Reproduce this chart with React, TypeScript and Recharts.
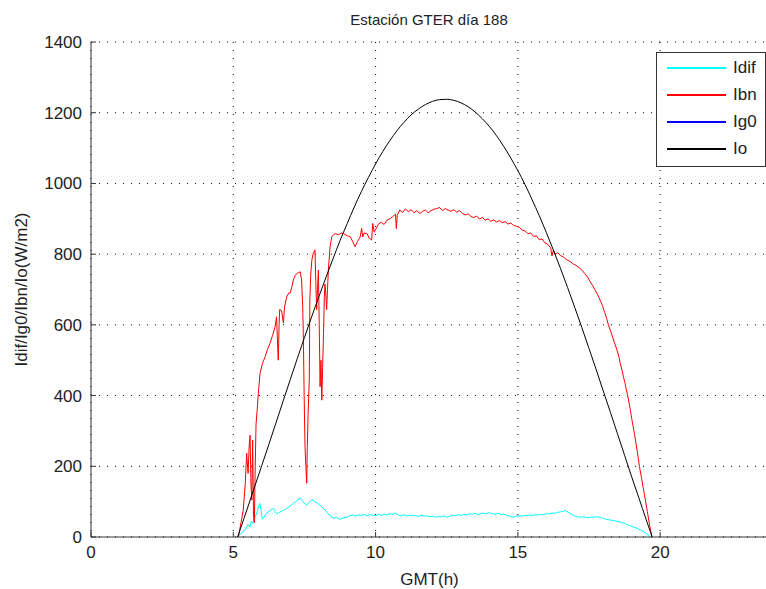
import { LineChart, Line, XAxis, YAxis, CartesianGrid } from 'recharts';

// [hour GMT, W/m2]
const idif: [number, number][] = [
  [5.13, 0], [5.25, 8], [5.35, 15], [5.45, 25], [5.52, 35], [5.58, 28], [5.63, 45],
  [5.68, 38], [5.73, 52], [5.78, 58], [5.84, 72], [5.9, 90], [5.94, 95], [5.98, 72],
  [6.02, 50], [6.08, 56], [6.15, 66], [6.25, 72], [6.35, 77], [6.41, 82], [6.47, 72],
  [6.52, 66], [6.6, 69], [6.7, 73], [6.8, 77], [6.9, 82], [7.0, 88], [7.11, 95],
  [7.2, 100], [7.28, 106], [7.35, 110], [7.42, 103], [7.5, 95], [7.58, 90], [7.65, 97],
  [7.72, 103], [7.8, 105], [7.88, 99], [7.97, 95], [8.05, 90], [8.15, 82], [8.28, 71],
  [8.4, 60], [8.52, 53], [8.62, 56], [8.75, 50], [8.87, 54], [9.0, 56], [9.1, 60],
  [9.2, 62], [9.3, 59], [9.4, 63], [9.5, 61], [9.6, 64], [9.7, 60], [9.8, 63],
  [9.9, 62], [10.0, 60], [10.1, 64], [10.2, 61], [10.3, 65], [10.4, 62], [10.5, 66],
  [10.6, 64], [10.7, 68], [10.8, 62], [10.9, 60], [11.0, 63], [11.1, 59], [11.2, 62],
  [11.3, 60], [11.4, 61], [11.5, 58], [11.6, 62], [11.7, 59], [11.8, 60], [11.9, 57],
  [12.0, 59], [12.1, 56], [12.2, 58], [12.3, 57], [12.4, 60], [12.5, 56], [12.6, 58],
  [12.7, 62], [12.8, 60], [12.9, 63], [13.0, 61], [13.1, 64], [13.2, 62], [13.3, 66],
  [13.4, 64], [13.5, 67], [13.6, 63], [13.7, 66], [13.8, 68], [13.9, 65], [14.0, 69],
  [14.1, 66], [14.2, 64], [14.3, 67], [14.4, 63], [14.5, 65], [14.6, 61], [14.7, 59],
  [14.8, 56], [14.9, 58], [15.0, 60], [15.1, 59], [15.2, 61], [15.3, 60], [15.4, 62],
  [15.5, 61], [15.6, 63], [15.7, 62], [15.8, 64], [15.9, 63], [16.0, 66], [16.1, 65],
  [16.2, 68], [16.3, 67], [16.4, 70], [16.5, 71], [16.6, 73], [16.66, 75], [16.75, 71],
  [16.85, 66], [16.95, 61], [17.05, 58], [17.19, 56], [17.3, 57], [17.45, 55], [17.6, 56],
  [17.75, 57], [17.89, 56], [18.0, 53], [18.1, 50], [18.24, 48], [18.4, 46], [18.55, 43],
  [18.7, 40], [18.85, 35], [19.0, 30], [19.18, 25], [19.35, 18], [19.5, 10], [19.64, 0],
];

const ibn: [number, number][] = [
  [5.18, 0], [5.27, 40], [5.35, 76], [5.42, 150], [5.47, 237], [5.52, 180], [5.56, 260],
  [5.59, 288], [5.62, 150], [5.65, 105], [5.68, 274], [5.71, 60], [5.74, 40], [5.77, 200],
  [5.8, 320], [5.84, 360], [5.88, 406], [5.94, 463], [6.02, 490], [6.12, 510], [6.2, 530],
  [6.29, 548], [6.38, 570], [6.47, 595], [6.52, 623], [6.55, 560], [6.58, 500], [6.61, 600],
  [6.63, 643], [6.7, 640], [6.76, 605], [6.8, 650], [6.88, 680], [6.95, 690], [7.0, 690],
  [7.05, 705], [7.11, 727], [7.18, 740], [7.23, 745], [7.3, 748], [7.35, 750], [7.4, 727],
  [7.44, 650], [7.46, 576], [7.49, 400], [7.52, 255], [7.55, 200], [7.58, 152], [7.6, 255],
  [7.63, 350], [7.67, 444], [7.69, 670], [7.72, 740], [7.76, 783], [7.8, 800], [7.87, 812],
  [7.9, 720], [7.93, 643], [7.96, 700], [7.99, 755], [8.02, 600], [8.05, 425], [8.08, 500],
  [8.11, 387], [8.14, 480], [8.17, 576], [8.2, 680], [8.22, 715], [8.25, 690], [8.28, 643],
  [8.31, 700], [8.34, 755], [8.4, 820], [8.46, 849], [8.52, 855], [8.58, 858], [8.7, 855],
  [8.8, 860], [8.87, 858], [9.0, 852], [9.11, 849], [9.2, 835], [9.28, 821], [9.36, 835],
  [9.46, 849], [9.51, 873], [9.55, 849], [9.6, 860], [9.7, 858], [9.78, 845], [9.86, 840],
  [9.9, 887], [9.95, 862], [10.05, 877], [10.1, 885], [10.2, 890], [10.3, 884], [10.4, 896],
  [10.5, 900], [10.6, 906], [10.7, 913], [10.73, 872], [10.76, 910], [10.85, 925], [10.95, 918],
  [11.05, 928], [11.15, 920], [11.25, 926], [11.35, 917], [11.45, 923], [11.55, 915], [11.65, 921],
  [11.75, 925], [11.85, 917], [11.95, 923], [12.05, 927], [12.15, 929], [12.25, 932], [12.35, 923],
  [12.45, 929], [12.55, 925], [12.65, 921], [12.75, 926], [12.85, 919], [12.95, 923], [13.05, 915],
  [13.15, 911], [13.25, 914], [13.35, 907], [13.45, 903], [13.55, 908], [13.65, 899], [13.75, 904],
  [13.85, 896], [13.95, 900], [14.05, 893], [14.15, 897], [14.25, 891], [14.35, 895], [14.45, 889],
  [14.55, 892], [14.65, 885], [14.75, 888], [14.85, 881], [14.95, 879], [15.05, 876], [15.15, 868],
  [15.25, 866], [15.35, 858], [15.45, 860], [15.55, 850], [15.65, 852], [15.75, 841], [15.85, 843],
  [15.95, 832], [16.05, 828], [16.15, 818], [16.2, 795], [16.25, 812], [16.3, 800], [16.4, 804],
  [16.5, 796], [16.6, 792], [16.7, 785], [16.84, 779], [16.95, 772], [17.05, 768], [17.15, 762],
  [17.25, 755], [17.35, 745], [17.45, 735], [17.54, 722], [17.62, 712], [17.7, 700], [17.8, 686],
  [17.89, 670], [17.97, 655], [18.05, 635], [18.12, 618], [18.18, 600], [18.26, 582], [18.33, 565],
  [18.4, 548], [18.48, 529], [18.55, 510], [18.6, 490], [18.66, 472], [18.71, 453], [18.76, 437],
  [18.8, 420], [18.85, 403], [18.89, 387], [18.95, 360], [19.0, 335], [19.1, 290], [19.2, 240],
  [19.27, 200], [19.35, 165], [19.45, 118], [19.55, 72], [19.63, 33], [19.71, 0],
];

// Ig0 has no valid samples that day: it only shows up in the legend
const ig0: [number, number][] = [];

const io: [number, number][] = [
  [5.15, 0], [5.25, 23], [5.5, 82], [5.75, 142], [6, 202], [6.25, 262], [6.5, 323],
  [6.75, 384], [7, 445], [7.25, 505], [7.5, 564], [7.75, 622], [8, 678], [8.25, 733],
  [8.5, 786], [8.75, 838], [9, 886], [9.25, 933], [9.5, 977], [9.75, 1017], [10, 1055],
  [10.25, 1090], [10.5, 1121], [10.75, 1149], [11, 1173], [11.25, 1194], [11.5, 1210],
  [11.75, 1223], [12, 1232], [12.25, 1237], [12.5, 1238], [12.75, 1235], [13, 1228],
  [13.25, 1217], [13.5, 1202], [13.75, 1183], [14, 1161], [14.25, 1135], [14.5, 1105],
  [14.75, 1072], [15, 1036], [15.25, 997], [15.5, 954], [15.75, 909], [16, 861],
  [16.25, 811], [16.5, 759], [16.75, 705], [17, 649], [17.25, 592], [17.5, 533],
  [17.75, 474], [18, 413], [18.25, 353], [18.5, 292], [18.75, 231], [19, 170],
  [19.25, 111], [19.5, 51], [19.72, 0],
];

const xTicks = [0, 5, 10, 15, 20];
const yTicks = [0, 200, 400, 600, 800, 1000, 1200, 1400];

const SERIES = [
  { name: 'Idif', color: '#00ffff', data: idif },
  { name: 'Ibn', color: '#ff0000', data: ibn },
  { name: 'Ig0', color: '#0000ff', data: ig0 },
  { name: 'Io', color: '#000000', data: io },
];

const FONT = '"Liberation Sans", Arial, Helvetica, sans-serif';
const TEXT = '#222';
const TICK_GAP = 9;
const TICK_LEN = 5;

const toPoints = (pairs: [number, number][]) => pairs.map(([h, v]) => ({ h, v }));

// MATLAB-style ticks: short marks pointing into the plot
function BottomTick(props: any) {
  const { x, y, payload } = props;
  const axisY = y - TICK_GAP;
  return (
    <g>
      <line x1={x} y1={axisY} x2={x} y2={axisY - TICK_LEN} stroke="#333" />
      <text x={x} y={y} dy="0.71em" textAnchor="middle" fontSize={17} fill={TEXT}>
        {payload.value}
      </text>
    </g>
  );
}

function TopTick(props: any) {
  const { x, y } = props;
  return <line x1={x} y1={y} x2={x} y2={y + TICK_LEN} stroke="#333" />;
}

function LeftTick(props: any) {
  const { x, y, payload } = props;
  const axisX = x + TICK_GAP;
  return (
    <g>
      <line x1={axisX} y1={y} x2={axisX + TICK_LEN} y2={y} stroke="#333" />
      <text x={x} y={y} dy="0.355em" textAnchor="end" fontSize={17} fill={TEXT}>
        {payload.value}
      </text>
    </g>
  );
}

function YLabel(props: any) {
  const { viewBox } = props;
  const cx = viewBox.x + 27;
  const cy = viewBox.y + viewBox.height / 2;
  return (
    <text
      x={cx}
      y={cy}
      transform={`rotate(-90 ${cx} ${cy})`}
      textAnchor="middle"
      fontSize={17}
      fill={TEXT}
    >
      Idif/Ig0/Ibn/Io(W/m2)
    </text>
  );
}

function ChartLegend() {
  return (
    <div
      style={{
        position: 'absolute',
        left: 656,
        top: 52,
        width: 110,
        height: 115,
        boxSizing: 'border-box',
        border: '1px solid #333',
        background: '#fff',
        padding: '1px 0 0 10px',
      }}
    >
      {SERIES.map(s => (
        <div key={s.name} style={{ position: 'relative', height: 27 }}>
          <div
            style={{
              position: 'absolute',
              left: 0,
              top: 13,
              width: 59,
              height: 2,
              background: s.color,
            }}
          />
          <span
            style={{
              position: 'absolute',
              left: 66,
              top: 4,
              fontSize: 17,
              lineHeight: '19px',
              color: TEXT,
            }}
          >
            {s.name}
          </span>
        </div>
      ))}
    </div>
  );
}

export default function App() {
  return (
    <div
      style={{
        position: 'absolute',
        left: 0,
        top: 0,
        width: 766,
        height: 589,
        overflow: 'hidden',
        background: '#fff',
        fontFamily: FONT,
      }}
    >
      <div
        style={{
          position: 'absolute',
          left: 0,
          top: 12,
          width: 858,
          textAlign: 'center',
          fontSize: 15,
          lineHeight: '15px',
          color: TEXT,
        }}
      >
        Estación GTER día 188
      </div>
      <LineChart
        width={780}
        height={589}
        margin={{ top: 42, right: 6, bottom: 0, left: 0 }}
        style={{ fontFamily: FONT }}
      >
        <CartesianGrid stroke="#000" strokeDasharray="1 7" />
        <XAxis
          dataKey="h"
          type="number"
          domain={[0, 24]}
          ticks={xTicks}
          height={52}
          tickSize={0}
          tickMargin={TICK_GAP}
          tick={<BottomTick />}
          axisLine={{ stroke: '#333' }}
          label={{ value: 'GMT(h)', position: 'insideBottom', offset: 4, fontSize: 17, fill: TEXT, dx: -3 }}
        />
        <XAxis
          xAxisId="top"
          orientation="top"
          dataKey="h"
          type="number"
          domain={[0, 24]}
          ticks={xTicks}
          height={0}
          tickSize={0}
          tickMargin={0}
          tick={<TopTick />}
          axisLine={{ stroke: '#333' }}
        />
        <YAxis
          type="number"
          domain={[0, 1400]}
          ticks={yTicks}
          width={91}
          tickSize={0}
          tickMargin={TICK_GAP}
          tick={<LeftTick />}
          axisLine={{ stroke: '#333' }}
          label={<YLabel />}
        />
        {SERIES.map(s => (
          <Line
            key={s.name}
            data={toPoints(s.data)}
            dataKey="v"
            name={s.name}
            type={s.name === 'Io' ? 'monotone' : 'linear'}
            stroke={s.color}
            strokeWidth={1}
            dot={false}
            activeDot={false}
            isAnimationActive={false}
          />
        ))}
      </LineChart>
      <ChartLegend />
    </div>
  );
}
